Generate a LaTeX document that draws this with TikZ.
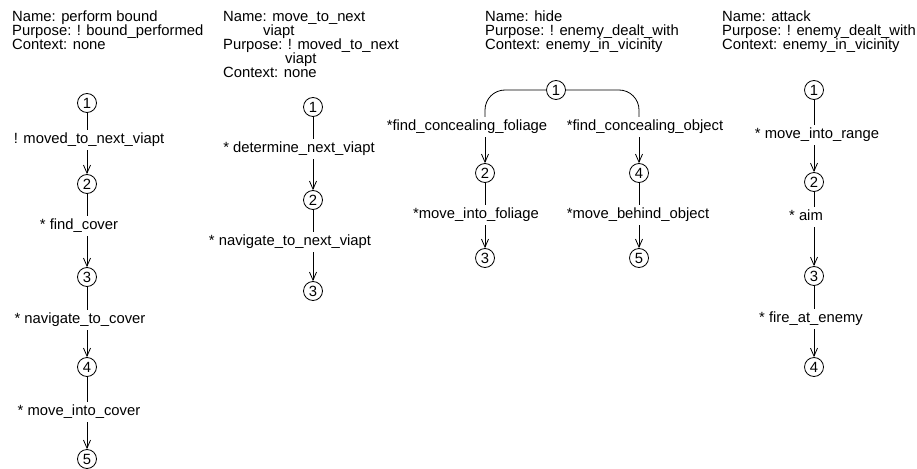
\documentclass[tikz,border=0pt]{standalone}
\usepackage{fontspec}
\setmainfont{Liberation Sans}
\usepackage{tikz}
\usetikzlibrary{arrows.meta}

\begin{document}
\begin{tikzpicture}[
    x=1pt, y=-1pt,
    font=\fontsize{14.8}{14}\selectfont,
    % Estilos
    state/.style={circle, draw, line width=0.8pt, minimum size=19pt, inner sep=0pt},
    act/.style={inner sep=0pt, text height=11pt, text depth=3.5pt, outer sep=3pt},
    header/.style={anchor=north west, align=left, inner sep=0pt},
    link/.style={line width=0.8pt},
    arrow/.style={-{Straight Barb[length=8pt, width=7pt]}, line width=0.8pt}
]
\useasboundingbox (0,0) rectangle (917,468);

% Cabeceras
\node[header] (hbound) at (12,11) {Name: perform bound\\Purpose: ! bound\_performed\\Context: none};
\node[header] (hnext) at (223,11) {Name: move\_to\_next\\\hspace*{40pt}viapt\\Purpose: ! moved\_to\_next\\\hspace*{62pt}viapt\\Context: none};
\node[header] (hhide) at (485,11) {Name: hide\\Purpose: ! enemy\_dealt\_with\\Context: enemy\_in\_vicinity};
\node[header] (hattack) at (722,11) {Name: attack\\Purpose: ! enemy\_dealt\_with\\Context: enemy\_in\_vicinity};

% perform bound
\node[state] (b1) at (87,103) {1};
\node[state] (b2) at (87,184) {2};
\node[state] (b3) at (87,277) {3};
\node[state] (b4) at (87,367) {4};
\node[state] (b5) at (87,459) {5};
\node[act] (bl1) at (89,140) {! moved\_to\_next\_viapt};
\node[act] (bl2) at (79,226) {* find\_cover};
\node[act] (bl3) at (80,320) {* navigate\_to\_cover};
\node[act] (bl4) at (79,412) {* move\_into\_cover};

\draw[link] (b1) -- (b1 |- bl1.north);
\draw[arrow] (b1 |- bl1.south) -- (b2);
\draw[link] (b2) -- (b2 |- bl2.north);
\draw[arrow] (b2 |- bl2.south) -- (b3);
\draw[link] (b3) -- (b3 |- bl3.north);
\draw[arrow] (b3 |- bl3.south) -- (b4);
\draw[link] (b4) -- (b4 |- bl4.north);
\draw[arrow] (b4 |- bl4.south) -- (b5);

% move_to_next viapt
\node[state] (n1) at (313,107) {1};
\node[state] (n2) at (313,200) {2};
\node[state] (n3) at (313,291) {3};
\node[act] (nl1) at (299,149) {* determine\_next\_viapt};
\node[act] (nl2) at (290,242) {* navigate\_to\_next\_viapt};

\draw[link] (n1) -- (n1 |- nl1.north);
\draw[arrow] (n1 |- nl1.south) -- (n2);
\draw[link] (n2) -- (n2 |- nl2.north);
\draw[arrow] (n2 |- nl2.south) -- (n3);

% hide
\node[state] (h1) at (556,90) {1};
\node[state] (h2) at (485,173) {2};
\node[state] (h3) at (485,258) {3};
\node[state] (h4) at (639,173) {4};
\node[state] (h5) at (639,258) {5};
\node[act] (hl1) at (467,127) {*find\_concealing\_foliage};
\node[act] (hl2) at (645,127) {*find\_concealing\_object};
\node[act] (hl3) at (476,215) {*move\_into\_foliage};
\node[act] (hl4) at (638,215) {*move\_behind\_object};

\draw[link, rounded corners=20pt] (h1.west) -| (h2 |- hl1.north);
\draw[link, rounded corners=20pt] (h1.east) -| (h4 |- hl2.north);
\draw[arrow] (h2 |- hl1.south) -- (h2);
\draw[arrow] (h4 |- hl2.south) -- (h4);
\draw[link] (h2) -- (h2 |- hl3.north);
\draw[arrow] (h2 |- hl3.south) -- (h3);
\draw[link] (h4) -- (h4 |- hl4.north);
\draw[arrow] (h4 |- hl4.south) -- (h5);

% attack
\node[state] (a1) at (814,90) {1};
\node[state] (a2) at (814,182) {2};
\node[state] (a3) at (814,276) {3};
\node[state] (a4) at (814,367) {4};
\node[act] (al1) at (817,135) {* move\_into\_range};
\node[act] (al2) at (806,217) {* aim};
\node[act] (al3) at (811,319) {* fire\_at\_enemy};

\draw[link] (a1) -- (a1 |- al1.north);
\draw[arrow] (a1 |- al1.south) -- (a2);
\draw[link] (a2) -- (a2 |- al2.north);
\draw[arrow] (a2 |- al2.south) -- (a3);
\draw[link] (a3) -- (a3 |- al3.north);
\draw[arrow] (a3 |- al3.south) -- (a4);

\end{tikzpicture}
\end{document}
